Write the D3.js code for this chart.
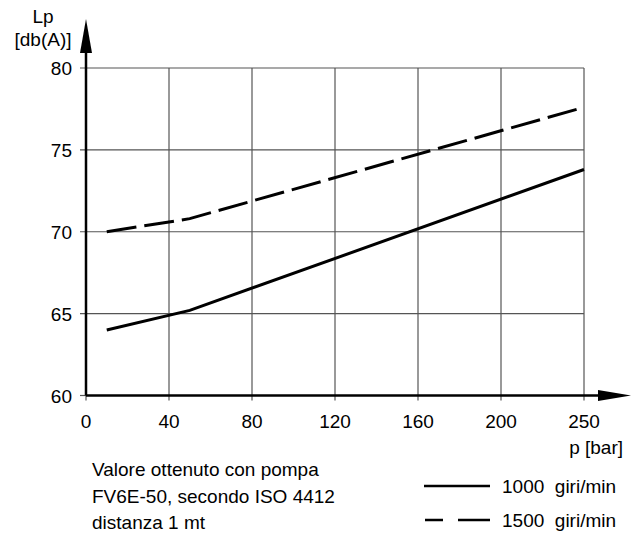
<!DOCTYPE html>
<html>
<head>
<meta charset="utf-8">
<script src="https://cdn.jsdelivr.net/npm/d3@7"></script>
<style>
  html, body { margin: 0; padding: 0; background: #fff; }
  svg { display: block; font-family: "Liberation Sans", Arial, sans-serif; }
</style>
</head>
<body>
<svg id="chart" width="638" height="533"></svg>
<script>
// Pressure tick labels (the last interval is drawn the same width as the others)
const pressureTicks = [0, 40, 80, 120, 160, 200, 250];
const levelTicks = [60, 65, 70, 75, 80];

// Sound pressure level vs. pressure
const pressure = [10, 50, 250];
const lp1000 = [64.0, 65.2, 73.8];
const lp1500 = [70.0, 70.8, 77.6];

const seriesNames = ["1000  giri/min", "1500  giri/min"];
const noteLines = [
  "Valore ottenuto con pompa",
  "FV6E-50, secondo ISO 4412",
  "distanza 1 mt"
];

const svg = d3.select("#chart");
const fs = 19;

const x0 = 86, step = 83;
const x = d3.scaleLinear()
  .domain(pressureTicks)
  .range(pressureTicks.map((d, i) => x0 + i * step));
const y = d3.scaleLinear().domain([60, 80]).range([395.5, 68]);

const xMax = x(pressureTicks[pressureTicks.length - 1]);

// grid
const grid = svg.append("g").attr("stroke", "#555").attr("stroke-width", 1.2);
grid.selectAll("line.v").data(pressureTicks.slice(1)).join("line")
  .attr("x1", d => x(d)).attr("x2", d => x(d))
  .attr("y1", y(80)).attr("y2", y(60) + 5);
grid.selectAll("line.h").data(levelTicks.slice(1)).join("line")
  .attr("x1", x0 - 6).attr("x2", xMax)
  .attr("y1", d => y(d)).attr("y2", d => y(d));
// small ticks at the origin
grid.append("line").attr("x1", x0).attr("x2", x0).attr("y1", y(60)).attr("y2", y(60) + 5);
grid.append("line").attr("x1", x0 - 6).attr("x2", x0).attr("y1", y(60)).attr("y2", y(60));

// axes with arrows
const axes = svg.append("g").attr("stroke", "#000").attr("stroke-width", 2.5);
axes.append("line").attr("x1", x0).attr("x2", x0).attr("y1", y(60)).attr("y2", 40);
axes.append("line").attr("x1", x0).attr("x2", 612).attr("y1", y(60)).attr("y2", y(60));
svg.append("path").attr("fill", "#000")
  .attr("d", `M${x0},19 L${x0 + 6},53 L${x0 - 6},53 Z`);
svg.append("path").attr("fill", "#000")
  .attr("d", `M631,${y(60)} L598,${y(60) - 5.5} L598,${y(60) + 5.5} Z`);

// tick labels
svg.append("g").attr("font-size", fs).attr("text-anchor", "middle")
  .selectAll("text").data(pressureTicks).join("text")
  .attr("x", d => x(d)).attr("y", 428).text(d => d);
svg.append("g").attr("font-size", fs).attr("text-anchor", "end")
  .selectAll("text").data(levelTicks).join("text")
  .attr("x", 72).attr("y", d => y(d) + 7).text(d => d);

// axis titles
svg.append("text").attr("font-size", fs).attr("text-anchor", "middle")
  .attr("x", 43).attr("y", 23).text("Lp");
svg.append("text").attr("font-size", fs).attr("text-anchor", "middle")
  .attr("x", 43).attr("y", 46).text("[db(A)]");
svg.append("text").attr("font-size", fs).attr("text-anchor", "end")
  .attr("x", 623).attr("y", 454).text("p [bar]");

// curves
const line = d3.line().x(d => x(d[0])).y(d => y(d[1]));
svg.append("path")
  .datum(pressure.map((p, i) => [p, lp1000[i]]))
  .attr("fill", "none").attr("stroke", "#000").attr("stroke-width", 3)
  .attr("d", line);
svg.append("path")
  .datum(pressure.map((p, i) => [p, lp1500[i]]))
  .attr("fill", "none").attr("stroke", "#000").attr("stroke-width", 3)
  .attr("stroke-dasharray", "30,8")
  .attr("d", line);

// note
svg.append("g").attr("font-size", fs)
  .selectAll("text").data(noteLines).join("text")
  .attr("x", 92).attr("y", (d, i) => 476 + i * 26.5).text(d => d);

// legend
const legend = svg.append("g");
legend.append("line").attr("x1", 424).attr("x2", 490).attr("y1", 486).attr("y2", 486)
  .attr("stroke", "#000").attr("stroke-width", 2.5);
legend.append("line").attr("x1", 425).attr("x2", 490).attr("y1", 520).attr("y2", 520)
  .attr("stroke", "#000").attr("stroke-width", 2.5).attr("stroke-dasharray", "18,15,32");
legend.selectAll("text").data(seriesNames).join("text")
  .attr("font-size", fs).attr("x", 502).attr("y", (d, i) => 493 + i * 34)
  .style("white-space", "pre").text(d => d);
</script>
</body>
</html>
